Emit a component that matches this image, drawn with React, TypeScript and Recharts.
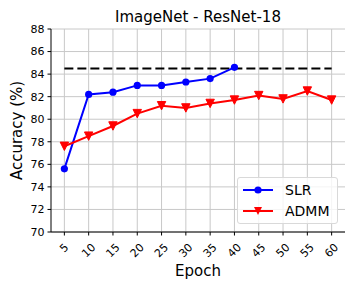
import * as React from 'react'
import {
	LineChart,
	Line,
	XAxis,
	YAxis,
	CartesianGrid,
	ReferenceLine,
} from 'recharts'

const epochs = [5, 10, 15, 20, 25, 30, 35, 40, 45, 50, 55, 60]
const slrAcc = [75.6, 82.2, 82.4, 83.0, 83.0, 83.3, 83.6, 84.6]
const admmAcc = [77.6, 78.5, 79.4, 80.5, 81.2, 81.0, 81.4, 81.7, 82.1, 81.8, 82.5, 81.7]
const baseline = 84.5
const yTicks = [70, 72, 74, 76, 78, 80, 82, 84, 86, 88]

const data = epochs.map((e, i) => ({
	epoch: e,
	slr: i < slrAcc.length ? slrAcc[i] : undefined,
	admm: admmAcc[i],
}))

const font = '"DejaVu Sans", sans-serif'

const EpochTick = (props: any) => {
	const { x, y, payload } = props
	const label = String(payload.value)
	const dy = label.length > 1 ? 16 : 13.5
	return (
		<g transform={`translate(${x},${y + dy - 3})`}>
			<text
				transform="rotate(-45)"
				textAnchor="middle"
				dominantBaseline="central"
				fontSize={11}
				fontFamily={font}
				fill="#000"
			>
				{label}
			</text>
		</g>
	)
}

const TriangleDot = (props: any) => {
	const { cx, cy, index } = props
	if (cx == null || cy == null) return <g key={`t${index}`} />
	const s = 4.2
	return (
		<polygon
			key={`t${index}`}
			points={`${cx - s},${cy - s} ${cx + s},${cy - s} ${cx},${cy + s}`}
			fill="#ff0000"
			stroke="#ff0000"
		/>
	)
}

const legendItems = [
	{ name: 'SLR', color: '#0000ff', mark: 'circle' },
	{ name: 'ADMM', color: '#ff0000', mark: 'tri' },
]

const LegendBox = () => (
	<div
		style={{
			position: 'absolute',
			left: 237,
			top: 177,
			width: 101,
			height: 47,
			border: '1px solid #d9d9d9',
			borderRadius: 3,
			background: 'rgba(255,255,255,0.8)',
			fontFamily: font,
			fontSize: 14,
			boxSizing: 'border-box',
		}}
	>
		{legendItems.map((it, i) => (
			<div
				key={it.name}
				style={{ position: 'absolute', left: 4, top: 3 + i * 21, height: 18, display: 'flex', alignItems: 'center' }}
			>
				<svg width={32} height={18}>
					<line x1={1} y1={9} x2={31} y2={9} stroke={it.color} strokeWidth={2} />
					{it.mark === 'circle' ? (
						<circle cx={16} cy={9} r={3.6} fill={it.color} />
					) : (
						<polygon points="12,5 20,5 16,13" fill={it.color} />
					)}
				</svg>
				<span style={{ marginLeft: 11, color: '#000', lineHeight: '18px' }}>{it.name}</span>
			</div>
		))}
	</div>
)

export default function App() {
	return (
		<div style={{ position: 'absolute', left: 0, top: 0, width: 360, height: 288, background: '#fff' }}>
			<LineChart
				width={360}
				height={288}
				data={data}
				margin={{ top: 29, right: 15, left: 0, bottom: 0 }}
			>
				<text x={198} y={22} textAnchor="middle" fontSize={15} fontFamily={font} fill="#000">
					ImageNet - ResNet-18
				</text>
				<CartesianGrid
					stroke="#c8c8c8"
					strokeWidth={1}
					verticalValues={epochs}
					horizontalValues={yTicks}
				/>
				<XAxis
					dataKey="epoch"
					type="number"
					domain={[2.25, 62.75]}
					ticks={epochs}
					interval={0}
					height={56}
					tick={<EpochTick />}
					tickSize={3.5}
					axisLine={{ stroke: '#000', strokeWidth: 1 }}
					tickLine={{ stroke: '#000' }}
					label={{
						value: 'Epoch',
						position: 'insideBottom',
						offset: 12,
						fontSize: 15,
						fontFamily: font,
						fill: '#000',
					}}
				/>
				<XAxis
					xAxisId="top"
					orientation="top"
					dataKey="epoch"
					type="number"
					domain={[2.25, 62.75]}
					height={0}
					tick={false}
					tickLine={false}
					axisLine={{ stroke: '#000' }}
				/>
				<YAxis
					domain={[70, 88]}
					ticks={yTicks}
					interval={0}
					width={51}
					tickSize={3.5}
					tickMargin={3}
					tick={{ fontSize: 11, fontFamily: font, fill: '#000' }}
					axisLine={{ stroke: '#000' }}
					tickLine={{ stroke: '#000' }}
					label={{
						value: 'Accuracy (%)',
						angle: -90,
						position: 'insideLeft',
						offset: 0,
						dx: 17,
						style: { textAnchor: 'middle' },
						fontSize: 15,
						fontFamily: font,
						fill: '#000',
					}}
				/>
				<YAxis
					yAxisId="right"
					orientation="right"
					domain={[70, 88]}
					width={0}
					tick={false}
					tickLine={false}
					axisLine={{ stroke: '#000' }}
				/>
				<ReferenceLine
					segment={[
						{ x: 5, y: baseline },
						{ x: 60, y: baseline },
					]}
					stroke="#000"
					strokeWidth={2}
					strokeDasharray="9 4"
				/>
				<Line
					dataKey="slr"
					name="SLR"
					stroke="#0000ff"
					strokeWidth={2}
					dot={{ r: 3.6, fill: '#0000ff', stroke: '#0000ff', strokeWidth: 0 }}
					activeDot={false}
					isAnimationActive={false}
					connectNulls={false}
				/>
				<Line
					dataKey="admm"
					name="ADMM"
					stroke="#ff0000"
					strokeWidth={2}
					dot={<TriangleDot />}
					activeDot={false}
					isAnimationActive={false}
				/>
			</LineChart>
			<LegendBox />
		</div>
	)
}
